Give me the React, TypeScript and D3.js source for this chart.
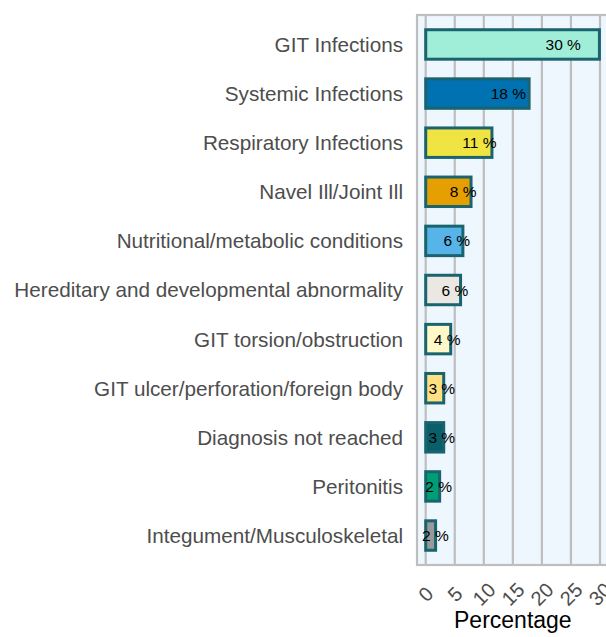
import React from "react";
import * as d3 from "d3";

const categories = [
  "GIT Infections",
  "Systemic Infections",
  "Respiratory Infections",
  "Navel Ill/Joint Ill",
  "Nutritional/metabolic conditions",
  "Hereditary and developmental abnormality",
  "GIT torsion/obstruction",
  "GIT ulcer/perforation/foreign body",
  "Diagnosis not reached",
  "Peritonitis",
  "Integument/Musculoskeletal",
];
const values = [29.9, 17.8, 11.4, 7.8, 6.4, 6.0, 4.3, 3.1, 3.1, 2.4, 1.7];
const fills = [
  "#a0eed8",
  "#0072b2",
  "#f0e442",
  "#e69f00",
  "#56b4e9",
  "#ebe7e2",
  "#fff8c8",
  "#ffe082",
  "#0b5f6b",
  "#009e73",
  "#999999",
];
const xTicks = [0, 5, 10, 15, 20, 25, 30];
const xTitle = "Percentage";

const W = 606;
const H = 637;
const FONT = "'Liberation Sans', Arial, Helvetica, sans-serif";

export default function App() {
  const panel = { left: 417, right: 608.7, top: 15, bottom: 565 };
  const x = d3.scaleLinear().domain([-1.5, 31.5]).range([panel.left, panel.right]);
  const unit = (panel.bottom - panel.top) / (categories.length - 1 + 1.2);
  const y = d3
    .scalePoint<string>()
    .domain(categories)
    .range([panel.top + 0.6 * unit, panel.bottom - 0.6 * unit]);
  const barH = 0.6 * unit;

  return (
    <div style={{ position: "absolute", left: 0, top: 0 }}>
      <svg width={W} height={H} style={{ display: "block" }} fontFamily={FONT}>
        <rect x={0} y={0} width={W} height={H} fill="#ffffff" />
        <rect
          x={panel.left}
          y={panel.top}
          width={panel.right - panel.left}
          height={panel.bottom - panel.top}
          fill="#eef6fe"
        />
        {xTicks.map((t) => (
          <line
            key={"g" + t}
            x1={x(t)}
            x2={x(t)}
            y1={panel.top}
            y2={panel.bottom}
            stroke="#bebebe"
            strokeWidth={2.2}
          />
        ))}
        {categories.map((c, i) => {
          const cy = y(c) as number;
          return (
            <rect
              key={c}
              x={x(0)}
              y={cy - barH / 2}
              width={x(values[i]) - x(0)}
              height={barH}
              fill={fills[i]}
              stroke="#1a6470"
              strokeWidth={3}
            />
          );
        })}
        {categories.map((c, i) => {
          const cy = y(c) as number;
          return (
            <text
              key={"l" + c}
              x={x(0.78 * values[i] + 0.35)}
              y={cy}
              dy="0.36em"
              textAnchor="middle"
              fontSize={15.5}
              fill="#000000"
            >
              {Math.round(values[i]) + " %"}
            </text>
          );
        })}
        <rect
          x={panel.left}
          y={panel.top}
          width={panel.right - panel.left}
          height={panel.bottom - panel.top}
          fill="none"
          stroke="#bebebe"
          strokeWidth={2.2}
        />
        {categories.map((c) => (
          <text
            key={"c" + c}
            x={403}
            y={y(c) as number}
            dy="0.36em"
            textAnchor="end"
            fontSize={20.7}
            fill="#4d4d4d"
          >
            {c}
          </text>
        ))}
        {xTicks.map((t) => (
          <text
            key={"t" + t}
            transform={`translate(${x(t)},594) rotate(-45)`}
            dy="0.36em"
            textAnchor="middle"
            fontSize={20}
            fill="#4d4d4d"
          >
            {t}
          </text>
        ))}
        <text
          x={(panel.left + panel.right) / 2}
          y={628}
          textAnchor="middle"
          fontSize={23}
          fill="#000000"
        >
          {xTitle}
        </text>
      </svg>
    </div>
  );
}
